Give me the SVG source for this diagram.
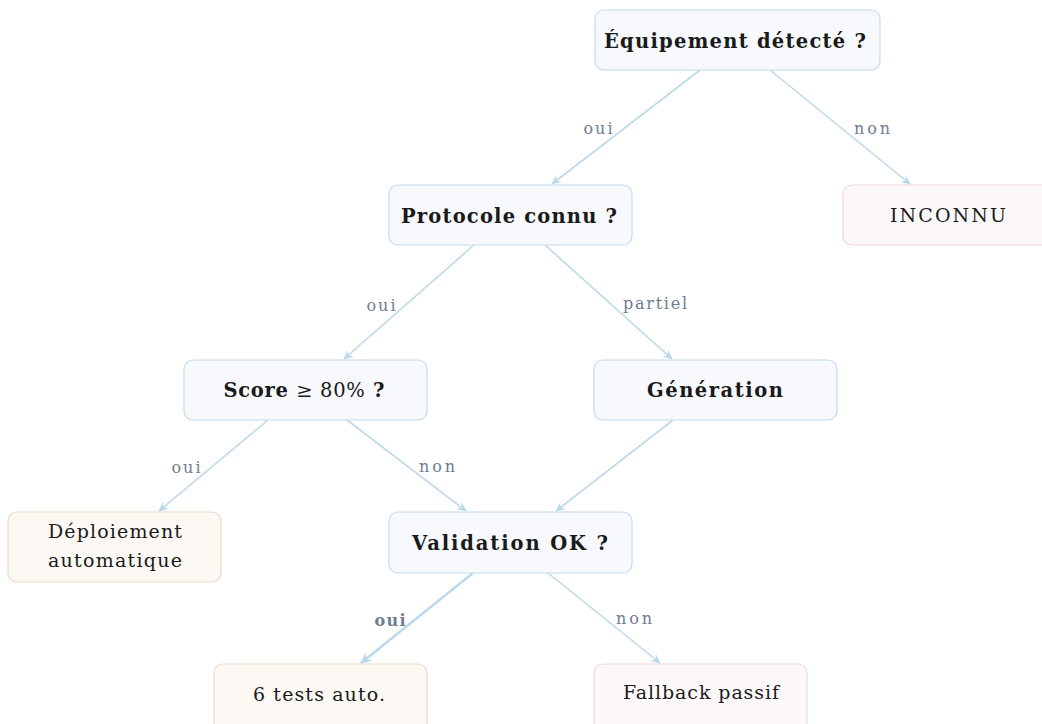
<svg xmlns="http://www.w3.org/2000/svg" width="1042" height="724" viewBox="0 0 1042 724">
<style>
.dec rect{fill:#f7f9fc;stroke:#c4dcec;stroke-width:1.2}
.ok rect{fill:#fcf8f4;stroke:#ecd9c4;stroke-width:1.2}
.ko rect{fill:#fcf8fa;stroke:#efd6de;stroke-width:1.2}
.t{font-family:"DejaVu Serif","Liberation Serif",serif;fill:#1a1a1a;text-anchor:middle}
.b{font-weight:bold;font-size:19.5px}
.n{font-size:19px}
.e{fill:none;stroke:#bcd9ea;stroke-width:1.6;marker-end:url(#ah)}
.lbl{font-family:"DejaVu Serif","Liberation Serif",serif;font-size:16px;fill:#6f7d8f;text-anchor:middle}
</style>
<defs>
<marker id="ah" viewBox="0 0 10 10" refX="9" refY="5" markerWidth="10" markerHeight="10" orient="auto" markerUnits="userSpaceOnUse">
<path d="M0,0.5 L10,5 L0,9.5 L3.5,5 Z" fill="#bcd9ea"/>
</marker>
<marker id="ah2" viewBox="0 0 10 10" refX="9" refY="5" markerWidth="12" markerHeight="12" orient="auto" markerUnits="userSpaceOnUse">
<path d="M0,0.5 L10,5 L0,9.5 L3.5,5 Z" fill="#bcd9ea"/>
</marker>
</defs>
<g id="connectors">
<line class="e" x1="700" y1="70" x2="552" y2="184"/>
<line class="e" x1="770" y1="70" x2="910" y2="184"/>
<line class="e" x1="474" y1="245" x2="344" y2="359"/>
<line class="e" x1="545" y1="245" x2="672" y2="359"/>
<line class="e" x1="268" y1="420" x2="159" y2="511"/>
<line class="e" x1="347" y1="420" x2="466" y2="511"/>
<line class="e" x1="673" y1="420" x2="556" y2="511"/>
<line class="e" x1="473" y1="573" x2="361" y2="663" style="stroke-width:2.6;marker-end:url(#ah2)"/>
<line class="e" x1="548" y1="573" x2="660" y2="663"/>
<text class="lbl" x="598" y="134" textLength="29">oui</text>
<text class="lbl" x="872" y="134" textLength="36">non</text>
<text class="lbl" x="381" y="311" textLength="29">oui</text>
<text class="lbl" x="655" y="309" textLength="64">partiel</text>
<text class="lbl" x="186" y="473" textLength="29">oui</text>
<text class="lbl" x="437" y="472" textLength="36">non</text>
<text class="lbl" x="390" y="626" textLength="31" style="font-weight:bold">oui</text>
<text class="lbl" x="634" y="624" textLength="36">non</text>
</g>
<g id="n1" class="dec"><rect x="595" y="10" width="285" height="60" rx="9"/><text class="t b" x="735" y="48" textLength="262">Équipement détecté ?</text></g>
<g id="n2" class="dec"><rect x="389" y="185" width="243" height="60" rx="9"/><text class="t b" x="509" y="223" textLength="216">Protocole connu ?</text></g>
<g id="n3" class="ko"><rect x="843" y="185" width="210" height="60" rx="9"/><text class="t n" x="948" y="222" textLength="116">INCONNU</text></g>
<g id="n4" class="dec"><rect x="184" y="360" width="243" height="60" rx="9"/><text class="t b" x="304" y="397" textLength="161">Score <tspan font-weight="normal">≥ 80%</tspan> ?</text></g>
<g id="n5" class="dec"><rect x="594" y="360" width="243" height="60" rx="9"/><text class="t b" x="715" y="397" textLength="136">Génération</text></g>
<g id="n6" class="ok"><rect x="8" y="512" width="213" height="70" rx="9"/><text class="t n" x="115" y="538" textLength="134">Déploiement</text><text class="t n" x="115" y="567" textLength="134">automatique</text></g>
<g id="n7" class="dec"><rect x="389" y="512" width="243" height="61" rx="9"/><text class="t b" x="510" y="550" textLength="196">Validation OK ?</text></g>
<g id="n8" class="ok"><rect x="214" y="664" width="213" height="70" rx="9"/><text class="t n" x="319" y="701" textLength="132">6 tests auto.</text></g>
<g id="n9" class="ko"><rect x="594" y="664" width="213" height="70" rx="9"/><text class="t n" x="701" y="699" textLength="156">Fallback passif</text></g>
</svg>
